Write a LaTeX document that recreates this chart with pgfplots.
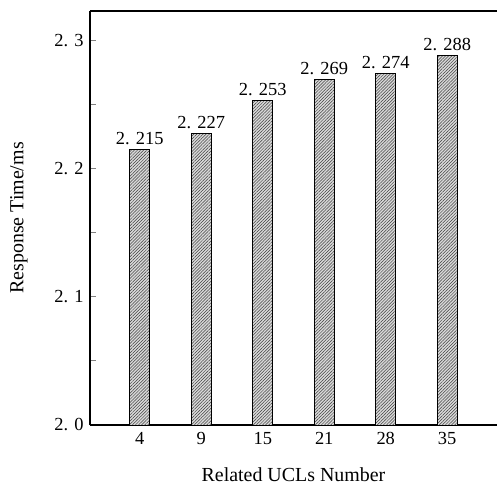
\documentclass[border=0pt]{standalone}
\usepackage{fontspec}
\setmainfont{Liberation Serif}
\usepackage{pgfplots}
\pgfplotsset{compat=1.18}
\usetikzlibrary{patterns.meta,calc}

\begin{document}
\begin{tikzpicture}
\begin{axis}[
    name=ax,
    scale only axis,
    width=407bp, height=414bp,
    ybar, bar width=20bp,
    xmin=-0.81, xmax=5.81,
    ymin=2.0, ymax=2.3227,
    axis x line*=box, axis y line*=left,
    axis line style={line width=1.1pt},
    xtick=data, xticklabels={4,9,15,21,28,35},
    x tick style={draw=none},
    ytick={2.0,2.1,2.2,2.3}, yticklabels={2. 0,2. 1,2. 2,2. 3},
    minor y tick num=1,
    tick align=inside,
    y tick style={line width=1pt},
    major tick length=6bp, minor tick length=6bp,
    tick label style={font=\fontsize{18.5}{21}\selectfont},
    xticklabel style={yshift=-4bp},
    yticklabel style={xshift=-3bp},
    label style={font=\fontsize{20}{23}\selectfont},
    xlabel={Related UCLs Number},
    ylabel={Response Time/ms},
    xlabel style={at={(axis description cs:0.5,-0.119)}, anchor=center},
    ylabel style={at={(axis description cs:-0.1744,0.5)}, anchor=center},
    point meta=explicit symbolic,
    nodes near coords,
    nodes near coords style={font=\fontsize{18.5}{21}\selectfont, yshift=1bp},
]
\addplot[draw=black, line width=1pt, fill=gray!30,
    postaction={pattern={Lines[angle=45,distance=2.2pt,line width=0.5pt]}, pattern color=black!75}]
    coordinates {
    (0,2.215) [2. 215]
    (1,2.227) [2. 227]
    (2,2.253) [2. 253]
    (3,2.269) [2. 269]
    (4,2.274) [2. 274]
    (5,2.288) [2. 288]
};
\end{axis}
\pgfresetboundingbox
\path[use as bounding box] ($(ax.south west)+(-90bp,-61bp)$) rectangle ($(ax.north east)+(0,11bp)$);
\end{tikzpicture}
\end{document}
